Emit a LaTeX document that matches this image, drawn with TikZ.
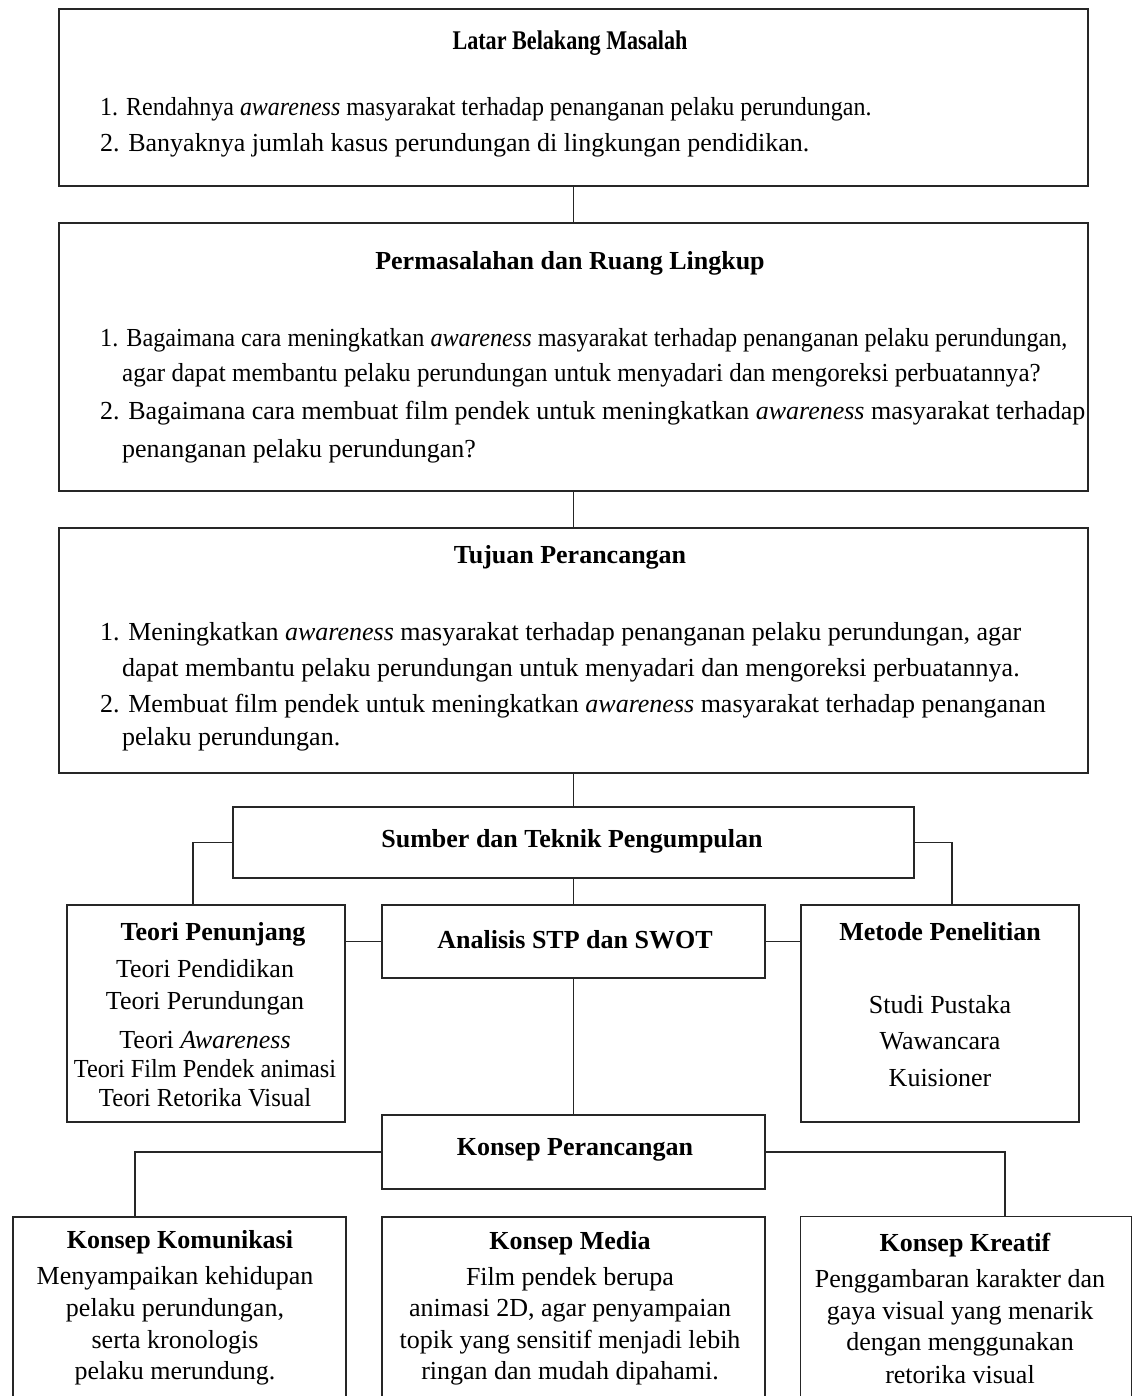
\documentclass[tikz,border=0pt]{standalone}
\usepackage{graphicx}
\usepackage{fontspec}
\setmainfont{Liberation Serif}
\newfontfamily\condfont[FakeStretch=0.82]{Liberation Serif}
\newcommand{\hsq}[2]{\scalebox{#1}[1]{#2}}
\begin{document}
\begin{tikzpicture}[x=1pt,y=-1pt,
  box/.style={draw=black!85, line width=2pt, anchor=north west, inner sep=0pt},
  link/.style={draw=black!85, line width=1.4pt},
  txt/.style={inner sep=0pt, font=\fontsize{26}{30}\selectfont},
  ttl/.style={inner sep=0pt, font=\fontsize{26}{30}\selectfont\bfseries},
  itm/.style={txt, anchor=base west},
]
\useasboundingbox (0,0) rectangle (1132,1396);
\clip (0,0) rectangle (1132,1396);

% main boxes
\node[box, minimum width=1029pt, minimum height=177pt] (b1) at (58,8) {};
\node[box, minimum width=1029pt, minimum height=268pt] (b2) at (58,222) {};
\node[box, minimum width=1029pt, minimum height=245pt] (b3) at (58,527) {};
\node[box, minimum width=681pt, minimum height=71pt] (b4) at (232,806) {};
\node[box, minimum width=278pt, minimum height=217pt] (tp) at (66,904) {};
\node[box, minimum width=383pt, minimum height=73pt] (an) at (381,904) {};
\node[box, minimum width=278pt, minimum height=217pt] (mp) at (800,904) {};
\node[box, minimum width=383pt, minimum height=74pt] (kp) at (381,1114) {};
\node[box, minimum width=333pt, minimum height=250pt] (kk) at (12,1216) {};
\node[box, minimum width=383pt, minimum height=250pt] (km) at (381,1216) {};
\node[box, line width=1.2pt, minimum width=331pt, minimum height=250pt] (kc) at (800,1216) {};

% connectors
\draw[link] (b1.south) -- (b2.north);
\draw[link] (b2.south) -- (b3.north);
\draw[link] (b3.south) -- (b4.north);
\draw[link] (b4.west) -| (tp.north -| 193,0);
\draw[link] (b4.east) -| (mp.north -| 952,0);
\draw[link] (b4.south) -- (an.north);
\draw[link] (an.west -| tp.east) -- (an.west);
\draw[link] (an.east) -- (an.east -| mp.west);
\draw[link] (an.south) -- (kp.north);
\draw[link] (kp.west) -| (kk.north -| 135,0);
\draw[link] (kp.east) -| (kc.north -| 1005,0);

% box 1
\node[inner sep=0pt, font=\fontsize{27}{30}\selectfont\condfont\bfseries] (t1) at (570,43) {Latar Belakang Masalah};
\node[itm] (t1a) at (100,116) {\hsq{0.922}{1. Rendahnya \textit{awareness} masyarakat terhadap penanganan pelaku perundungan.}};
\node[itm] (t1b) at (100,152) {2. Banyaknya jumlah kasus perundungan di lingkungan pendidikan.};

% box 2
\node[ttl] (t2) at (570,263) {Permasalahan dan Ruang Lingkup};
\node[itm] (t2a) at (100,346) {\hsq{0.93}{1. Bagaimana cara meningkatkan \textit{awareness} masyarakat terhadap penanganan pelaku perundungan,}};
\node[itm] (t2b) at (122,381) {\hsq{0.963}{agar dapat membantu pelaku perundungan untuk menyadari dan mengoreksi perbuatannya?}};
\node[itm] (t2c) at (100,419) {2. Bagaimana cara membuat film pendek untuk meningkatkan \textit{awareness} masyarakat terhadap};
\node[itm] (t2d) at (122,457) {penanganan pelaku perundungan?};

% box 3
\node[ttl] (t3) at (570,557) {Tujuan Perancangan};
\node[itm] (t3a) at (100,640) {1. Meningkatkan \textit{awareness} masyarakat terhadap penanganan pelaku perundungan, agar};
\node[itm] (t3b) at (122,676) {dapat membantu pelaku perundungan untuk menyadari dan mengoreksi perbuatannya.};
\node[itm] (t3c) at (100,712) {2. Membuat film pendek untuk meningkatkan \textit{awareness} masyarakat terhadap penanganan};
\node[itm] (t3d) at (122,745) {pelaku perundungan.};

% box 4 and row 2
\node[ttl] (t4) at (572,841) {Sumber dan Teknik Pengumpulan};
\node[ttl] (t5) at (213,934) {Teori Penunjang};
\node[txt] (t5a) at (205,969) {Teori Pendidikan};
\node[txt] (t5b) at (205,1003) {Teori Perundungan};
\node[txt] (t5c) at (205,1040) {Teori \textit{Awareness}};
\node[txt] (t5d) at (205,1069) {\hsq{0.935}{Teori Film Pendek animasi}};
\node[txt] (t5e) at (205,1098) {\hsq{0.95}{Teori Retorika Visual}};
\node[ttl] (t6) at (575,940) {Analisis STP dan SWOT};
\node[ttl] (t7) at (940,932) {Metode Penelitian};
\node[txt] (t7a) at (940,1005) {Studi Pustaka};
\node[txt] (t7b) at (940,1041) {Wawancara};
\node[txt] (t7c) at (940,1078) {Kuisioner};

% konsep
\node[ttl] (t8) at (575,1150) {Konsep Perancangan};
\node[ttl] (t9) at (180,1242) {Konsep Komunikasi};
\node[txt] (t9a) at (175,1278) {Menyampaikan kehidupan};
\node[txt] (t9b) at (175,1310) {pelaku perundungan,};
\node[txt] (t9c) at (175,1342) {serta kronologis};
\node[txt] (t9d) at (175,1373) {pelaku merundung.};
\node[ttl] (t10) at (570,1243) {Konsep Media};
\node[txt] (t10a) at (570,1279) {Film pendek berupa};
\node[txt] (t10b) at (570,1311) {animasi 2D, agar penyampaian};
\node[txt] (t10c) at (570,1342) {topik yang sensitif menjadi lebih};
\node[txt] (t10d) at (570,1373) {ringan dan mudah dipahami.};
\node[ttl] (t11) at (965,1245) {Konsep Kreatif};
\node[txt] (t11a) at (960,1281) {Penggambaran karakter dan};
\node[txt] (t11b) at (960,1313) {gaya visual yang menarik};
\node[txt] (t11c) at (960,1344) {dengan menggunakan};
\node[txt] (t11d) at (960,1375) {retorika visual};
\end{tikzpicture}
\end{document}
